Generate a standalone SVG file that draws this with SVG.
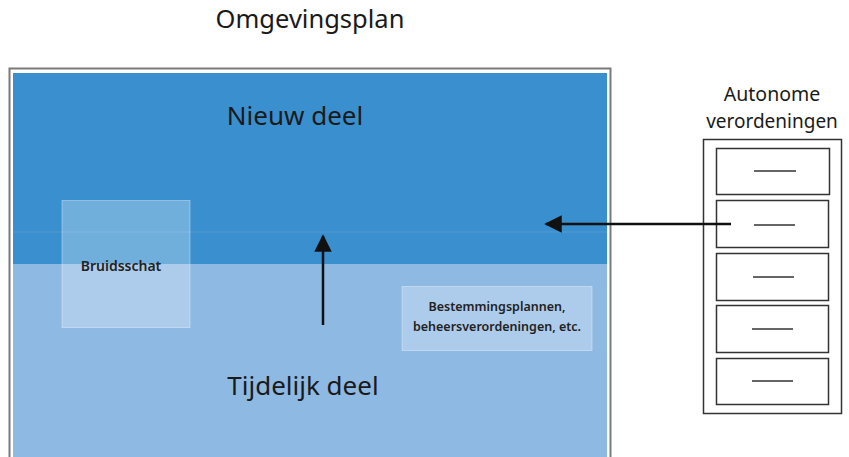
<svg xmlns="http://www.w3.org/2000/svg" width="849" height="457" viewBox="0 0 849 457">
<defs>
<style>
text{font-family:"Noto Sans","Open Sans","Liberation Sans",sans-serif;fill:#1a1a1a;text-anchor:middle}
.sm{font-weight:600;fill:#222}
.ov{fill:#ffffff;fill-opacity:0.28;stroke:#ffffff;stroke-opacity:0.35;stroke-width:1}
.drawer{fill:#ffffff;stroke:#333;stroke-width:1.5}
.dl{stroke:#333;stroke-width:1.3}
.con{stroke:#111;stroke-width:2.5;fill:none}
</style>
<marker id="ah" viewBox="0 0 10 10" refX="9" refY="5" markerWidth="7" markerHeight="7" markerUnits="strokeWidth" orient="auto">
<path d="M0,0 L10,5 L0,10 Z" fill="#111"/>
</marker>
</defs>
<rect width="849" height="457" fill="#ffffff"/>
<text x="310" y="28" font-size="25.5">Omgevingsplan</text>
<g id="omgevingsplan">
<rect x="9.5" y="68.5" width="601" height="395" fill="#ffffff" stroke="#7a7a7a" stroke-width="2"/>
<rect x="13" y="73" width="594" height="191" fill="#3a8fcf"/>
<rect x="13" y="264" width="594" height="200" fill="#8eb9e3"/>
<line x1="13" y1="232" x2="607" y2="232" stroke="#ffffff" stroke-opacity="0.06" stroke-width="2"/>
</g>
<g id="nieuw"><text x="295" y="125" font-size="26">Nieuw deel</text></g>
<g id="tijdelijk"><text x="303" y="395" font-size="26">Tijdelijk deel</text></g>
<g id="bruidsschat">
<rect class="ov" x="62" y="200.5" width="128" height="127"/>
<text class="sm" x="121" y="271" font-size="14">Bruidsschat</text>
</g>
<g id="bestemmingsplannen">
<rect class="ov" x="402" y="286.5" width="190" height="64"/>
<text class="sm" x="497" y="311" font-size="12.5">Bestemmingsplannen,</text>
<text class="sm" x="497" y="331" font-size="12.5">beheersverordeningen, etc.</text>
</g>
<g id="autonome">
<text x="772" y="101" font-size="19.5">Autonome</text>
<text x="772" y="128" font-size="19">verordeningen</text>
<rect x="703.5" y="139.5" width="138" height="274" fill="#ffffff" stroke="#333" stroke-width="1.5"/>
<rect class="drawer" x="716.5" y="148.5" width="113" height="46"/>
<rect class="drawer" x="716.5" y="200.5" width="112" height="47"/>
<rect class="drawer" x="716.5" y="253.5" width="112" height="47"/>
<rect class="drawer" x="716.5" y="305.5" width="112" height="47"/>
<rect class="drawer" x="716.5" y="358.5" width="112" height="46"/>
<line class="dl" x1="754" y1="171" x2="796" y2="171"/>
<line class="dl" x1="754" y1="225" x2="795" y2="225"/>
<line class="dl" x1="753" y1="277" x2="794" y2="277"/>
<line class="dl" x1="752" y1="329" x2="793" y2="329"/>
<line class="dl" x1="752" y1="381" x2="793" y2="381"/>
</g>
<g id="connectors">
<line class="con" x1="323" y1="325" x2="323" y2="236" marker-end="url(#ah)"/>
<line class="con" x1="731" y1="224" x2="546" y2="224" marker-end="url(#ah)"/>
</g>
</svg>
